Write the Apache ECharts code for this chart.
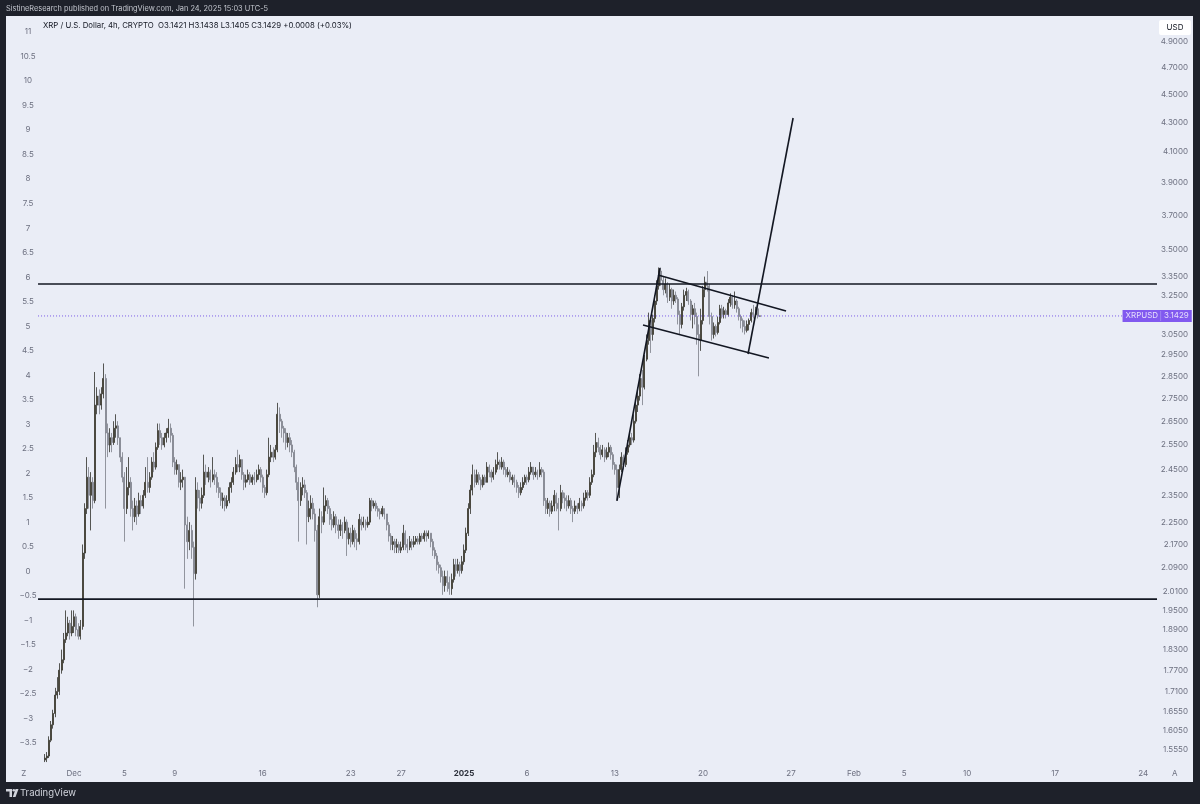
<!DOCTYPE html>
<html><head><meta charset="utf-8">
<script src="https://cdn.jsdelivr.net/npm/echarts@6/dist/echarts.min.js"></script>
<style>html,body{margin:0;padding:0;background:#1e212a;}#c{width:1200px;height:804px;}</style>
</head><body><div id="c"></div>
<script>
// ---- data (XRP/USD 4h) ----
const FIRST_OPEN = 1.53;
const START_DAY = -2.2083; // first candle start, days relative to Dec 1 00:00 (UTC-5)
const closes = [1.535,1.54,1.58,1.62,1.65,1.70,1.71,1.77,1.80,1.86,
1.88,1.91,1.88,1.90,1.93,1.89,1.87,1.90,2.14,2.30,
2.42,2.35,2.40,2.33,2.72,2.76,2.72,2.77,2.84,2.60,
2.55,2.58,2.56,2.62,2.63,2.58,2.50,2.42,2.30,2.38,
2.40,2.30,2.27,2.31,2.28,2.33,2.31,2.35,2.40,2.38,
2.42,2.48,2.46,2.54,2.61,2.58,2.55,2.58,2.60,2.62,
2.59,2.48,2.45,2.47,2.40,2.41,2.42,2.24,2.18,2.22,
2.16,2.07,2.37,2.34,2.32,2.35,2.44,2.42,2.44,2.41,
2.43,2.42,2.38,2.36,2.33,2.34,2.31,2.33,2.38,2.40,
2.44,2.47,2.46,2.49,2.43,2.40,2.41,2.43,2.40,2.42,
2.41,2.43,2.45,2.42,2.38,2.36,2.43,2.50,2.52,2.50,
2.53,2.68,2.65,2.62,2.60,2.56,2.58,2.55,2.52,2.46,
2.40,2.33,2.38,2.39,2.36,2.27,2.30,2.32,2.28,2.22,
2.00,2.27,2.25,2.31,2.33,2.30,2.26,2.24,2.27,2.24,
2.22,2.24,2.22,2.25,2.19,2.21,2.18,2.22,2.19,2.18,
2.26,2.24,2.25,2.24,2.25,2.33,2.31,2.32,2.30,2.29,
2.28,2.30,2.28,2.24,2.20,2.17,2.18,2.16,2.17,2.15,
2.16,2.21,2.17,2.16,2.18,2.17,2.18,2.19,2.18,2.20,
2.19,2.21,2.20,2.21,2.18,2.15,2.13,2.10,2.09,2.06,
2.03,2.06,2.04,2.02,2.05,2.10,2.08,2.10,2.08,2.11,
2.15,2.21,2.30,2.37,2.43,2.40,2.43,2.41,2.39,2.42,
2.40,2.46,2.44,2.42,2.44,2.47,2.48,2.46,2.48,2.45,
2.43,2.44,2.41,2.42,2.40,2.38,2.36,2.38,2.40,2.42,
2.41,2.44,2.46,2.43,2.44,2.43,2.45,2.44,2.33,2.30,
2.32,2.29,2.31,2.35,2.32,2.30,2.36,2.34,2.33,2.31,
2.33,2.30,2.29,2.31,2.30,2.32,2.31,2.34,2.36,2.35,
2.40,2.43,2.52,2.56,2.54,2.51,2.53,2.50,2.52,2.54,
2.51,2.47,2.45,2.38,2.45,2.50,2.47,2.52,2.55,2.58,
2.57,2.65,2.72,2.76,2.84,2.80,2.93,3.02,3.12,3.05,
3.13,3.22,3.30,3.38,3.33,3.28,3.31,3.24,3.28,3.22,
3.25,3.23,3.15,3.10,3.19,3.25,3.27,3.22,3.15,3.18,
3.14,3.05,3.02,3.12,3.28,3.32,3.30,3.14,3.05,3.09,
3.06,3.11,3.18,3.15,3.17,3.15,3.21,3.24,3.20,3.22,
3.18,3.14,3.12,3.09,3.07,3.10,3.12,3.16,3.15,3.18,
3.1421,3.1429];
const highs = [1.545,1.55,1.59,1.63,1.66,1.72,1.75,1.79,1.83,1.88,
1.95,1.93,1.92,1.95,1.95,1.94,1.91,1.92,2.17,2.32,
2.50,2.46,2.44,2.42,2.87,2.80,2.79,2.80,2.91,2.86,
2.64,2.62,2.60,2.65,2.68,2.65,2.58,2.52,2.44,2.46,
2.50,2.42,2.33,2.34,2.33,2.36,2.35,2.37,2.46,2.50,
2.44,2.50,2.52,2.56,2.64,2.64,2.60,2.60,2.62,2.66,
2.64,2.60,2.50,2.49,2.47,2.44,2.45,2.42,2.27,2.25,
2.24,2.18,2.42,2.40,2.37,2.38,2.51,2.47,2.46,2.45,
2.50,2.45,2.44,2.40,2.38,2.36,2.35,2.35,2.40,2.42,
2.46,2.50,2.53,2.51,2.49,2.44,2.43,2.45,2.44,2.43,
2.44,2.45,2.47,2.46,2.43,2.39,2.45,2.58,2.55,2.54,
2.55,2.73,2.71,2.66,2.63,2.62,2.60,2.60,2.57,2.53,
2.47,2.42,2.40,2.42,2.41,2.37,2.33,2.35,2.34,2.30,
2.24,2.30,2.29,2.38,2.35,2.34,2.31,2.28,2.29,2.28,
2.26,2.26,2.25,2.27,2.26,2.23,2.23,2.24,2.23,2.21,
2.28,2.27,2.27,2.26,2.27,2.34,2.34,2.33,2.33,2.31,
2.30,2.31,2.30,2.28,2.25,2.21,2.20,2.19,2.19,2.18,
2.18,2.24,2.22,2.19,2.20,2.19,2.20,2.20,2.20,2.21,
2.21,2.22,2.22,2.22,2.21,2.19,2.16,2.14,2.11,2.10,
2.08,2.08,2.08,2.06,2.07,2.12,2.12,2.12,2.11,2.13,
2.17,2.23,2.32,2.39,2.47,2.45,2.45,2.44,2.42,2.43,
2.43,2.48,2.47,2.45,2.46,2.49,2.52,2.49,2.50,2.49,
2.46,2.46,2.45,2.43,2.43,2.41,2.39,2.40,2.42,2.43,
2.43,2.46,2.48,2.46,2.46,2.45,2.48,2.46,2.45,2.34,
2.34,2.33,2.33,2.37,2.36,2.34,2.39,2.37,2.36,2.35,
2.35,2.34,2.31,2.33,2.32,2.34,2.33,2.36,2.37,2.37,
2.42,2.45,2.55,2.60,2.58,2.55,2.55,2.54,2.54,2.56,
2.55,2.52,2.48,2.47,2.47,2.52,2.51,2.54,2.57,2.60,
2.60,2.68,2.74,2.80,2.86,2.88,2.95,3.05,3.16,3.14,
3.15,3.25,3.33,3.40,3.40,3.35,3.34,3.32,3.31,3.29,
3.28,3.27,3.24,3.17,3.21,3.28,3.29,3.28,3.23,3.20,
3.21,3.16,3.10,3.18,3.30,3.35,3.38,3.31,3.16,3.11,
3.10,3.14,3.20,3.20,3.19,3.18,3.23,3.26,3.25,3.27,
3.23,3.19,3.15,3.13,3.12,3.12,3.13,3.18,3.20,3.19,
3.19,3.1438];
const lows = [1.525,1.525,1.535,1.575,1.61,1.64,1.69,1.70,1.76,1.79,
1.85,1.87,1.86,1.87,1.88,1.87,1.86,1.86,1.89,2.12,
2.28,2.30,2.22,2.30,2.32,2.68,2.68,2.70,2.75,2.30,
2.50,2.52,2.52,2.55,2.58,2.55,2.48,2.40,2.18,2.28,
2.35,2.27,2.22,2.25,2.24,2.27,2.28,2.30,2.34,2.36,
2.36,2.41,2.44,2.45,2.53,2.55,2.53,2.54,2.56,2.58,
2.56,2.46,2.43,2.43,2.38,2.37,2.38,2.02,2.12,2.15,
2.12,1.90,2.05,2.30,2.29,2.30,2.34,2.39,2.40,2.38,
2.40,2.39,2.36,2.34,2.31,2.30,2.29,2.30,2.32,2.36,
2.39,2.43,2.44,2.44,2.41,2.37,2.38,2.40,2.39,2.39,
2.39,2.40,2.41,2.40,2.36,2.34,2.35,2.42,2.48,2.48,
2.49,2.52,2.60,2.58,2.56,2.53,2.54,2.52,2.50,2.44,
2.37,2.18,2.31,2.35,2.34,2.17,2.25,2.26,2.26,2.18,
1.96,1.99,2.21,2.24,2.29,2.28,2.24,2.22,2.23,2.21,
2.19,2.20,2.19,2.21,2.13,2.17,2.16,2.17,2.16,2.15,
2.17,2.22,2.23,2.22,2.23,2.24,2.29,2.30,2.29,2.27,
2.26,2.27,2.26,2.22,2.18,2.15,2.15,2.14,2.14,2.14,
2.14,2.15,2.15,2.14,2.15,2.15,2.16,2.17,2.17,2.17,
2.18,2.18,2.18,2.19,2.16,2.13,2.12,2.08,2.07,2.04,
2.00,2.01,2.01,2.00,2.00,2.04,2.06,2.07,2.06,2.07,
2.10,2.14,2.20,2.28,2.35,2.38,2.39,2.39,2.37,2.38,
2.39,2.40,2.42,2.40,2.41,2.43,2.45,2.45,2.45,2.43,
2.42,2.42,2.40,2.39,2.38,2.36,2.34,2.35,2.37,2.39,
2.39,2.40,2.43,2.41,2.42,2.41,2.42,2.42,2.31,2.28,
2.28,2.27,2.28,2.29,2.29,2.22,2.29,2.32,2.30,2.29,
2.30,2.28,2.25,2.28,2.28,2.29,2.29,2.30,2.33,2.33,
2.34,2.39,2.42,2.50,2.52,2.49,2.50,2.48,2.49,2.50,
2.49,2.45,2.43,2.33,2.34,2.44,2.45,2.46,2.51,2.54,
2.55,2.56,2.64,2.69,2.74,2.72,2.79,2.92,3.00,2.96,
3.02,3.11,3.20,3.28,3.30,3.25,3.26,3.21,3.22,3.18,
3.20,3.21,3.10,3.05,3.08,3.17,3.22,3.20,3.12,3.08,
3.10,3.00,2.85,2.97,3.10,3.24,3.27,3.10,3.02,3.03,
3.04,3.05,3.10,3.13,3.13,3.13,3.14,3.19,3.18,3.18,
3.16,3.12,3.08,3.06,3.05,3.06,3.07,3.11,3.13,3.14,
3.13,3.1405];

const priceTicks = [4.9,4.7,4.5,4.3,4.1,3.9,3.7,3.5,3.35,3.25,3.05,2.95,2.85,2.75,2.65,2.55,2.45,2.35,2.25,2.17,2.09,2.01,1.95,1.89,1.83,1.77,1.71,1.655,1.605,1.555];
const leftTicks = [11,10.5,10,9.5,9,8.5,8,7.5,7,6.5,6,5.5,5,4.5,4,3.5,3,2.5,2,1.5,1,0.5,0,-0.5,-1,-1.5,-2,-2.5,-3,-3.5];
const dateTickDays = [-4,0,4,8,15,22,26,31,36,43,50,57,62,66,71,78,85,87.5];
const dateTickLabels = ['Z','Dec','5','9','16','23','27','2025','6','13','20','27','Feb','5','10','17','24','A'];
const levelPrices = [3.31, 1.986];
const levelDays = [-2.66, 86.29];
const trendLines = [
  [[43.36, 2.329], [46.78, 3.397]],
  [[46.62, 3.359], [56.80, 3.168]],
  [[45.43, 3.097], [55.44, 2.936]],
  [[53.78, 2.955], [57.36, 4.332]]
];
const lastPrice = 3.1429;
const symbolName = 'XRPUSD';

// ---- build ----
const X_MIN = -5.207, X_MAX = 89.15;
const Y_MIN = 0.38969, Y_MAX = 1.63139; // natural-log price range
const ln = Math.log;
const candles = closes.map((c, i) => {
  const o = i === 0 ? FIRST_OPEN : closes[i - 1];
  const h = Math.max(highs[i], o, c), l = Math.min(lows[i], o, c);
  return [START_DAY + i / 6 + 1 / 12, ln(o), ln(c), ln(l), ln(h)];
});
const FONT = 'Inter, "Noto Sans", sans-serif';
const lineSeries = (pts, extra) => Object.assign({
  type: 'line', xAxisIndex: 0, yAxisIndex: 0, symbol: 'none', silent: true, animation: false,
  data: pts.map(p => [p[0], ln(p[1])]),
  lineStyle: { color: '#131722', width: 1.6 }, z: 5
}, extra || {});

const series = [{
  type: 'candlestick', xAxisIndex: 0, yAxisIndex: 0,
  encode: { x: 0, y: [1, 2, 3, 4] },
  data: candles, barWidth: 1.5, z: 3,
  itemStyle: { color: '#86763f', color0: '#a9acb6', borderColor: '#2f2e2a', borderColor0: '#7b7e88', borderWidth: 0.8 }
}];
levelPrices.forEach(p => series.push(lineSeries([[levelDays[0], p], [levelDays[1], p]])));
trendLines.forEach(t => series.push(lineSeries(t)));
series.push(lineSeries([[levelDays[0], lastPrice], [83.51, lastPrice]], { lineStyle: { color: '#7b5be6', width: 1, type: [1, 2] }, z: 4 }));
series.push({
  type: 'scatter', xAxisIndex: 0, yAxisIndex: 0, symbolSize: 1, itemStyle: { color: 'rgba(0,0,0,0)' },
  data: [[83.51, ln(lastPrice)]], z: 10, silent: true,
  label: {
    show: true, position: 'right', distance: 0,
    formatter: '{a|' + symbolName + '}{s|}{b|' + lastPrice.toFixed(4) + '}',
    backgroundColor: '#6633ee', padding: [1, 2, 1, 2],
    rich: {
      a: { color: '#ffffff', fontSize: 8, fontFamily: FONT, padding: [0, 2, 0, 1] },
      s: { width: 1, height: 10, backgroundColor: '#a48cf3' },
      b: { color: '#ffffff', fontSize: 8, fontFamily: FONT, padding: [0, 1, 0, 3] }
    }
  }
});

const chart = echarts.init(document.getElementById('c'), null, { renderer: 'canvas' });
chart.setOption({
  animation: false,
  backgroundColor: '#1e212a',
  grid: { left: 6, right: 7, top: 16, bottom: 22, show: true, backgroundColor: '#eaedf6', borderWidth: 0, outerBoundsMode: 'none' },
  xAxis: {
    type: 'value', min: X_MIN, max: X_MAX, position: 'bottom',
    axisLine: { show: false }, axisTick: { show: false }, splitLine: { show: false },
    axisLabel: {
      inside: true, margin: 4, color: '#6d7080', fontSize: 8, fontFamily: FONT,
      padding: [0, 0, 0, 5],
      customValues: dateTickDays,
      formatter: v => {
        const k = dateTickDays.findIndex(d => Math.abs(d - v) < 1e-6);
        const s = k < 0 ? '' : dateTickLabels[k];
        return s === '2025' ? '{b|2025}' : s;
      },
      rich: { b: { fontWeight: 'bold', color: '#2a2e39', fontSize: 8, fontFamily: FONT } }
    }
  },
  yAxis: [{
    type: 'value', min: Y_MIN, max: Y_MAX, position: 'right',
    axisLine: { show: false }, axisTick: { show: false }, splitLine: { show: false },
    axisLabel: {
      inside: true, margin: 5, color: '#6d7080', fontSize: 8, fontFamily: FONT,
      customValues: priceTicks.map(p => ln(p)),
      formatter: v => Math.exp(v).toFixed(4)
    }
  }, {
    type: 'value', min: -4.297, max: 11.326, position: 'left',
    axisLine: { show: false }, axisTick: { show: false }, splitLine: { show: false },
    axisLabel: {
      inside: true, margin: 22, align: 'center', color: '#6d7080', fontSize: 8, fontFamily: FONT,
      customValues: leftTicks,
      formatter: v => String(Math.round(v * 10) / 10).replace('-', '\u2212')
    }
  }],
  graphic: [
    { type: 'text', x: 6, y: 9, style: { text: 'SistineResearch published on TradingView.com, Jan 24, 2025 15:03 UTC-5', fill: '#c3c6ce', font: '7.4px ' + FONT, verticalAlign: 'middle' } },
    { type: 'text', x: 43, y: 26, z: 20, style: { text: 'XRP / U.S. Dollar, 4h, CRYPTO  O3.1421 H3.1438 L3.1405 C3.1429 +0.0008 (+0.03%)', fill: '#131722', font: '7.8px ' + FONT, verticalAlign: 'middle' } },
    { type: 'rect', x: 1159, y: 20, z: 20, shape: { width: 32, height: 15, r: 2 }, style: { fill: '#ffffff' } },
    { type: 'text', x: 1175, y: 27.5, z: 21, style: { text: 'USD', fill: '#131722', font: '8px ' + FONT, align: 'center', verticalAlign: 'middle' } },
    { type: 'polygon', z: 20, shape: { points: [[6, 789], [12, 789], [12, 797], [9.5, 797], [9.5, 791.5], [6, 791.5]] }, style: { fill: '#d1d4dc' } },
    { type: 'circle', z: 20, shape: { cx: 13.8, cy: 790.3, r: 1.3 }, style: { fill: '#d1d4dc' } },
    { type: 'polygon', z: 20, shape: { points: [[15.5, 789], [18.5, 789], [15.5, 797], [12.8, 797]] }, style: { fill: '#d1d4dc' } },
    { type: 'text', x: 20, y: 793, z: 20, style: { text: 'TradingView', fill: '#d1d4dc', font: '9.5px ' + FONT, verticalAlign: 'middle' } }
  ],
  series: series
});
</script></body></html>
